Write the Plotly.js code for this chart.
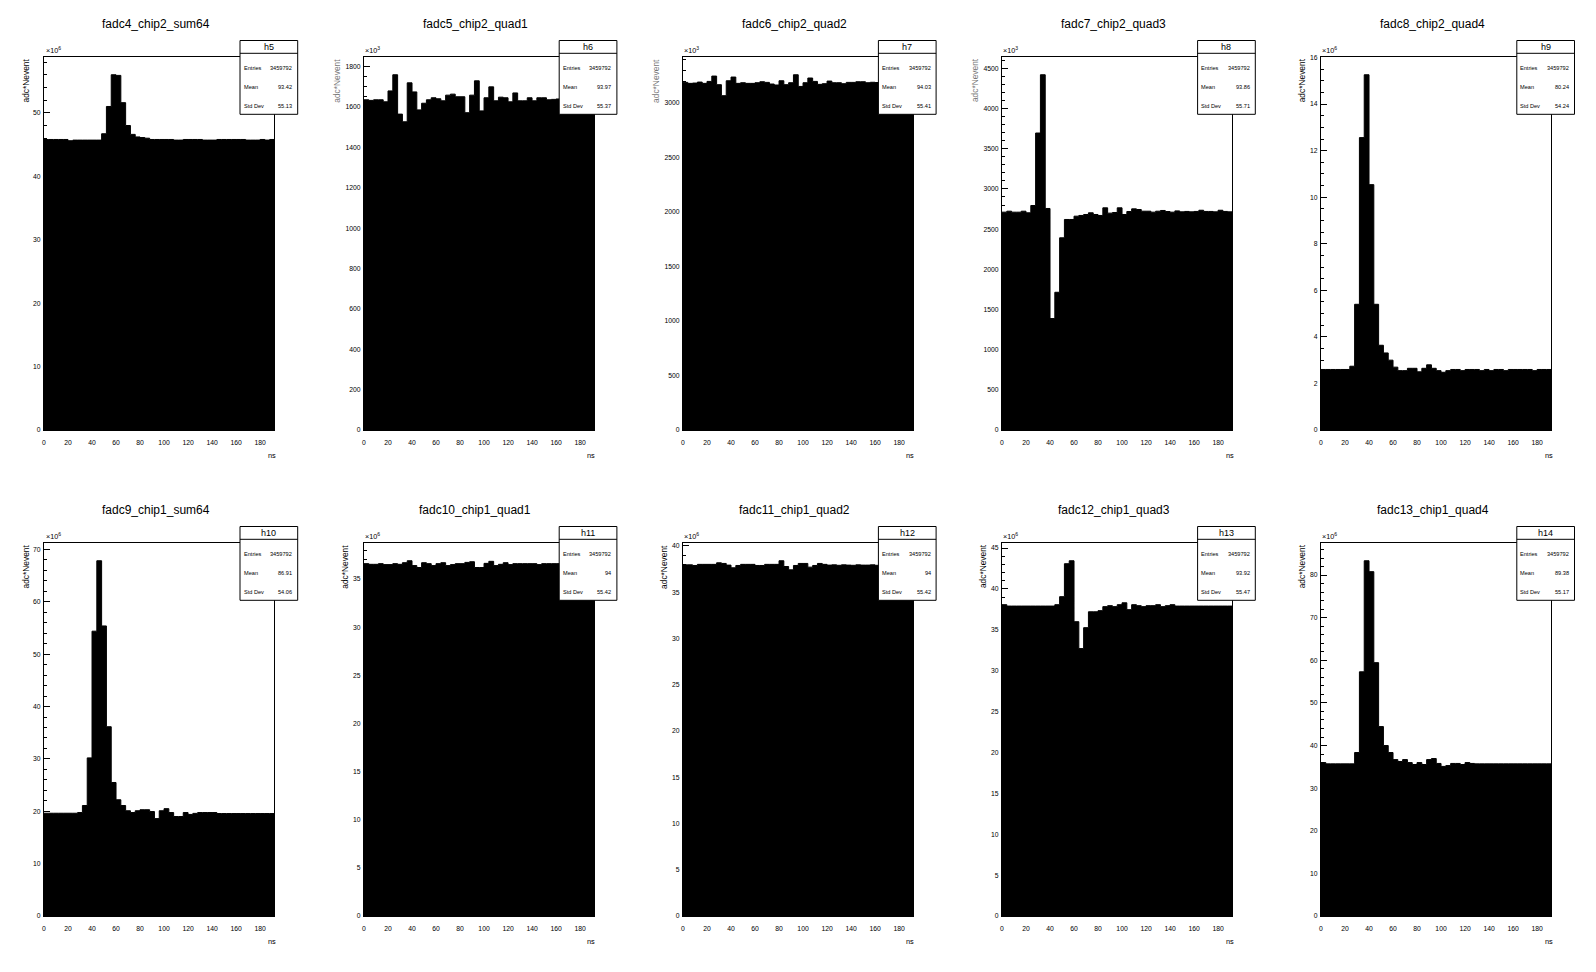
<!DOCTYPE html>
<html>
<head>
<meta charset="utf-8">
<script src="https://cdn.plot.ly/plotly-3.0.1.min.js"></script>
<style>html,body{margin:0;padding:0;background:#fff;}#chart{width:1596px;height:972px;}</style>
</head>
<body>
<div id="chart"></div>
<script>
// ---- Data (bin contents, in units shown on each axis: ×10^exp) ----
const binWidth = 4;      // ns
const nBins = 48;        // 0 .. 192 ns

const titles = ["fadc4_chip2_sum64","fadc5_chip2_quad1","fadc6_chip2_quad2","fadc7_chip2_quad3","fadc8_chip2_quad4",
                "fadc9_chip1_sum64","fadc10_chip1_quad1","fadc11_chip1_quad2","fadc12_chip1_quad3","fadc13_chip1_quad4"];
const histNames = ["h5","h6","h7","h8","h9","h10","h11","h12","h13","h14"];
const entries = ["3459792","3459792","3459792","3459792","3459792","3459792","3459792","3459792","3459792","3459792"];
const means = ["93.42","93.97","94.03","93.86","80.24","86.91","94","94","93.92","89.38"];
const stdDevs = ["55.13","55.37","55.41","55.71","54.24","54.06","55.42","55.42","55.47","55.17"];
const exponents = [6,3,3,3,6,6,6,6,6,6];
const yMajor = [10,200,500,500,2,10,5,5,5,10];
const yMinor = [2,50,100,100,0.5,2,1,1,1,2];

const fadc4 = [45.8,45.8,45.8,45.8,45.8,45.6,45.7,45.7,45.7,45.7,45.7,45.7,46.7,51.0,56.0,55.9,51.6,48.0,46.6,46.2,46.1,46.0,
  45.8,45.8,45.8,45.8,45.8,45.7,45.7,45.8,45.8,45.8,45.8,45.7,45.7,45.7,45.8,45.8,45.8,45.8,45.8,45.8,45.7,45.7,45.7,45.8,45.7,45.8];
const fadc5 = [1636,1633,1636,1636,1626,1680,1760,1565,1527,1720,1675,1586,1619,1636,1646,1641,1631,1659,1664,1651,1651,1572,
  1659,1730,1581,1646,1700,1631,1649,1646,1626,1670,1631,1631,1646,1631,1646,1646,1636,
  1638,1640,1636,1642,1638,1636,1640,1638,1636];
const fadc6 = [3189,3180,3183,3192,3180,3198,3247,3168,3067,3204,3238,3180,3186,3180,3180,3186,3195,3189,3174,3165,3204,3168,
  3186,3259,3152,3186,3229,3198,3171,3177,3201,3186,3186,3177,3189,3189,3195,3195,3186,
  3190,3188,3192,3186,3190,3188,3190,3186,3190];
const fadc7 = [2711,2723,2711,2711,2723,2703,2794,3696,4421,2757,1387,1714,2392,2620,2620,2661,2670,2682,2703,2682,2670,2765,
  2699,2707,2765,2682,2719,2752,2744,2723,2723,2711,2723,2732,2719,2711,2727,2715,
  2720,2715,2720,2735,2720,2720,2715,2735,2720,2715];
const fadc8 = [2.6,2.6,2.6,2.6,2.6,2.6,2.74,5.4,12.56,15.26,10.54,5.4,3.64,3.31,3.0,2.7,2.55,2.55,2.65,2.65,2.5,2.65,2.8,2.65,2.55,2.48,2.55,
  2.6,2.6,2.55,2.6,2.6,2.6,2.55,2.6,2.55,2.6,2.6,2.55,2.6,2.6,2.6,2.6,2.6,2.55,2.6,2.6,2.6];
const fadc9 = [19.63,19.63,19.63,19.63,19.63,19.63,19.63,19.76,21.1,30.2,54.4,67.85,55.4,36.15,25.5,22.2,21.1,20.1,19.76,20.1,20.3,20.3,
  19.95,18.6,20.1,20.5,19.76,19.0,19.0,19.76,19.4,19.6,19.76,19.76,19.76,19.76,
  19.57,19.57,19.57,19.57,19.57,19.57,19.57,19.57,19.57,19.57,19.57,19.57];
const fadc10 = [36.6,36.53,36.53,36.6,36.5,36.5,36.6,36.53,36.7,36.9,36.4,36.2,36.7,36.6,36.4,36.6,36.7,36.4,36.5,36.6,36.6,36.73,
  36.8,36.2,36.2,36.63,36.84,36.4,36.53,36.7,36.5,36.6,36.6,36.6,36.6,36.6,36.5,
  36.6,36.6,36.6,36.6,36.6,36.6,36.6,36.6,36.6,36.6,36.6];
const fadc11 = [37.95,37.95,37.88,38.0,38.0,38.0,38.0,38.17,38.1,37.92,37.63,37.88,38.0,38.0,38.0,37.88,37.88,38.0,38.0,38.0,38.39,37.77,
  37.41,37.88,38.1,38.1,37.7,37.88,38.1,38.0,
  37.92,37.95,37.9,37.95,37.92,37.9,37.95,37.92,37.92,37.95,37.9,37.92,37.95,37.92,37.9,37.92,37.95,37.92];
const fadc12 = [38.07,37.9,37.9,37.9,37.9,37.9,37.9,37.9,37.9,37.9,37.9,38.07,39.05,43.08,43.44,35.99,32.7,35.26,37.2,37.2,37.34,37.83,
  37.95,37.83,38.07,38.3,37.46,38.07,37.95,37.83,37.95,37.95,38.07,37.83,37.95,38.07,
  37.9,37.9,37.9,37.9,37.9,37.9,37.9,37.9,37.9,37.9,37.9,37.9];
const fadc13 = [36.0,35.7,35.7,35.7,35.7,35.7,35.7,38.36,57.3,83.36,80.8,59.45,44.45,40.0,38.36,36.7,36.25,36.7,36.0,35.55,36.0,35.55,
  36.7,36.95,35.8,35.1,35.3,35.8,35.8,35.55,36.0,35.8,
  35.7,35.7,35.7,35.7,35.7,35.7,35.7,35.7,35.7,35.7,35.7,35.7,35.7,35.7,35.7,35.7];

const series = [fadc4,fadc5,fadc6,fadc7,fadc8,fadc9,fadc10,fadc11,fadc12,fadc13];
const xTickVals = [0,20,40,60,80,100,120,140,160,180];

// ---- Layout helpers (pixel geometry of the ROOT canvas) ----
const W = 1596, H = 972;
const padW = W/5, padH = H/2;
const FONT = "Liberation Sans, Arial, Helvetica, sans-serif";
const px = v => v / W;
const py = v => 1 - v / H;

const edges = [];
for (let i = 0; i <= nBins; i++) edges.push(i * binWidth);

const data = [];
const layout = {
  width: W, height: H,
  margin: {l:0, r:0, t:0, b:0},
  paper_bgcolor: "#ffffff",
  plot_bgcolor: "#ffffff",
  showlegend: false,
  font: {family: FONT, color: "#000"},
  shapes: [],
  annotations: []
};

series.forEach((vals, i) => {
  const col = i % 5, row = Math.floor(i / 5);
  const ox = col * padW, oy = row * padH;
  const n = i + 1;
  const xa = "x" + (n === 1 ? "" : n), ya = "y" + (n === 1 ? "" : n);
  const xKey = "xaxis" + (n === 1 ? "" : n), yKey = "yaxis" + (n === 1 ? "" : n);

  const yStep = vals.concat([vals[vals.length - 1]]);
  data.push({
    type: "scatter", mode: "lines",
    x: edges, y: yStep,
    line: {shape: "hv", color: "#000", width: 1},
    fill: "tozeroy", fillcolor: "#000",
    xaxis: xa, yaxis: ya, hoverinfo: "skip"
  });

  const ymax = Math.max(...vals) * 1.05;
  const xl = Math.round(ox + 44.3), xr = Math.round(ox + 274.4);
  const yt = Math.round(oy + 56.7), yb = Math.round(oy + 430);
  layout[xKey] = {
    domain: [px(xl), px(xr)],
    anchor: ya,
    range: [0, nBins * binWidth - 0.4],
    tickvals: xTickVals,
    ticks: "inside", ticklen: 6, tickcolor: "#000", tickwidth: 1,
    showline: true, mirror: true, linecolor: "#000", linewidth: 1,
    showgrid: false, zeroline: false,
    tickfont: {family: FONT, size: 6.8, color: "#000"},
    ticklabelstandoff: 6,
    fixedrange: true
  };
  layout[yKey] = {
    domain: [py(yb), py(yt)],
    anchor: xa,
    range: [0, ymax],
    tick0: 0, dtick: yMajor[i],
    tickformat: "d",
    ticks: "inside", ticklen: 6, tickcolor: "#000", tickwidth: 1,
    minor: {ticks: "inside", ticklen: 3, dtick: yMinor[i], tickcolor: "#000", showgrid: false},
    showline: true, mirror: true, linecolor: "#000", linewidth: 1,
    showgrid: false, zeroline: false,
    tickfont: {family: FONT, size: 6.8, color: "#000"},
    ticklabelstandoff: 1,
    fixedrange: true
  };

  // Title
  layout.annotations.push({
    xref: "paper", yref: "paper", x: px(ox + 156), y: py(oy + 24),
    xanchor: "center", yanchor: "middle", showarrow: false,
    text: titles[i], font: {family: FONT, size: 12, color: "#000"}
  });
  // Exponent label
  layout.annotations.push({
    xref: "paper", yref: "paper", x: px(ox + 43.5), y: py(oy + 50),
    xanchor: "left", yanchor: "middle", showarrow: false,
    text: "×10<sup>" + exponents[i] + "</sup>", font: {family: FONT, size: 7.2, color: "#000"}
  });
  // Y axis title
  const clipped = exponents[i] === 3;
  layout.annotations.push({
    xref: "paper", yref: "paper", x: px(ox + (clipped ? 17 : 25)), y: py(oy + 56.5),
    xanchor: "center", yanchor: "top", showarrow: false, textangle: -90,
    text: "adc*Nevent", font: {family: FONT, size: 8.4, color: clipped ? "#777" : "#000"}
  });
  // X axis title
  layout.annotations.push({
    xref: "paper", yref: "paper", x: px(ox + 272), y: py(oy + 455),
    xanchor: "center", yanchor: "middle", showarrow: false,
    text: "ns", font: {family: FONT, size: 7.4, color: "#000"}
  });

  // Stats box
  const bx0 = ox + 240, bx1 = ox + 297.7, by0 = oy + 40.5, by1 = oy + 114.3, bdiv = oy + 53.3;
  layout.shapes.push({
    type: "rect", xref: "paper", yref: "paper", layer: "above",
    x0: px(bx0), x1: px(bx1), y0: py(by1), y1: py(by0),
    fillcolor: "#fff", line: {color: "#000", width: 1}
  });
  layout.shapes.push({
    type: "line", xref: "paper", yref: "paper", layer: "above",
    x0: px(bx0), x1: px(bx1), y0: py(bdiv), y1: py(bdiv),
    line: {color: "#000", width: 1}
  });
  layout.annotations.push({
    xref: "paper", yref: "paper", x: px((bx0 + bx1) / 2), y: py(oy + 47.3),
    xanchor: "center", yanchor: "middle", showarrow: false,
    text: histNames[i], font: {family: FONT, size: 9, color: "#000"}
  });
  const rows = [["Entries", entries[i], 68.3], ["Mean", means[i], 87.3], ["Std Dev", stdDevs[i], 106]];
  rows.forEach(r => {
    layout.annotations.push({
      xref: "paper", yref: "paper", x: px(bx0 + 1.6), y: py(oy + r[2]),
      xanchor: "left", yanchor: "middle", showarrow: false,
      text: r[0], font: {family: FONT, size: 5.6, color: "#000"}
    });
    layout.annotations.push({
      xref: "paper", yref: "paper", x: px(bx1 - 3.5), y: py(oy + r[2]),
      xanchor: "right", yanchor: "middle", showarrow: false,
      text: r[1], font: {family: FONT, size: 5.6, color: "#000"}
    });
  });
});

Plotly.newPlot("chart", data, layout, {staticPlot: true, displayModeBar: false});
</script>
</body>
</html>
